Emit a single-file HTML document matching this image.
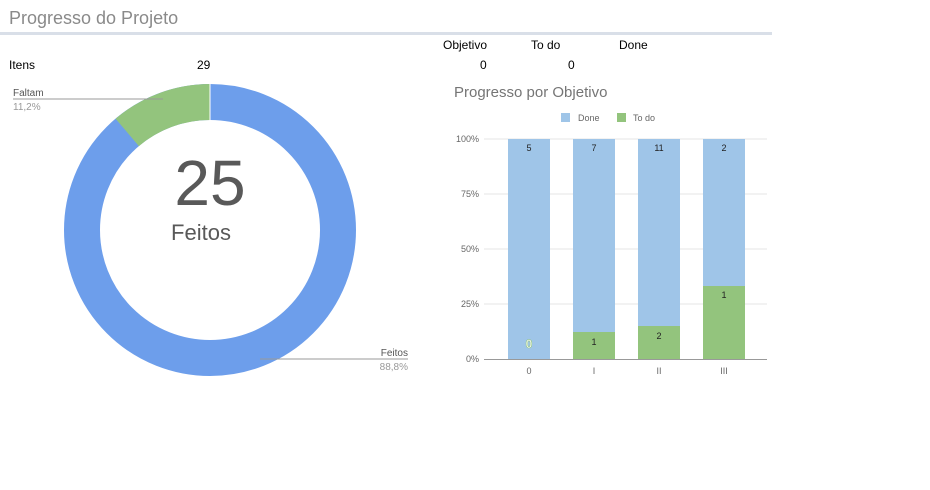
<html><body style="margin:0;background:#fff">
<svg width="930" height="490" xmlns="http://www.w3.org/2000/svg" font-family="Liberation Sans, Arial, sans-serif">
<text x="9" y="24" font-size="18" fill="#8a8a8a">Progresso do Projeto</text>
<rect x="0" y="32" width="772" height="3" fill="#d9dfe8"/>
<text x="9" y="69" font-size="12" fill="#000">Itens</text>
<text x="197" y="69" font-size="12" fill="#000">29</text>
<text x="443" y="49" font-size="12" fill="#000">Objetivo</text>
<text x="531" y="49" font-size="12" fill="#000">To do</text>
<text x="619" y="49" font-size="12" fill="#000">Done</text>
<text x="480" y="69" font-size="12" fill="#000">0</text>
<text x="568" y="69" font-size="12" fill="#000">0</text>
<!-- donut -->
<circle cx="210" cy="230" r="128" fill="none" stroke="#6d9eeb" stroke-width="36"/>
<path d="M210 84 A146 146 0 0 0 115.6 118.7 L138.9 146.1 A110 110 0 0 1 210 120 Z" fill="#93c47d"/>
<line x1="210" y1="84" x2="210" y2="120" stroke="#fff" stroke-width="1"/>
<text x="210" y="205" font-size="64" fill="#595959" text-anchor="middle">25</text>
<text x="201" y="240" font-size="22" fill="#595959" text-anchor="middle">Feitos</text>
<line x1="13" y1="99" x2="163" y2="99" stroke="#999"/>
<text x="13" y="96" font-size="10" fill="#555">Faltam</text>
<text x="13" y="110" font-size="10" fill="#999">11,2%</text>
<line x1="260" y1="359" x2="408" y2="359" stroke="#999"/>
<text x="408" y="356" font-size="10" fill="#555" text-anchor="end">Feitos</text>
<text x="408" y="370" font-size="10" fill="#999" text-anchor="end">88,8%</text>
<!-- bar chart -->
<text x="454" y="97" font-size="15" fill="#757575">Progresso por Objetivo</text>
<rect x="561" y="113" width="9" height="9" fill="#9fc5e8"/>
<text x="578" y="121" font-size="9" fill="#666">Done</text>
<rect x="617" y="113" width="9" height="9" fill="#93c47d"/>
<text x="633" y="121" font-size="9" fill="#666">To do</text>
<g stroke="#e6e6e6"><line x1="484" y1="139" x2="767" y2="139"/><line x1="484" y1="194" x2="767" y2="194"/><line x1="484" y1="249" x2="767" y2="249"/><line x1="484" y1="304" x2="767" y2="304"/></g>
<g font-size="9" fill="#666" text-anchor="end"><text x="479" y="142">100%</text><text x="479" y="197">75%</text><text x="479" y="252">50%</text><text x="479" y="307">25%</text><text x="479" y="362">0%</text></g>
<g fill="#9fc5e8"><rect x="508" y="139" width="42" height="220"/><rect x="573" y="139" width="42" height="220"/><rect x="638" y="139" width="42" height="220"/><rect x="703" y="139" width="42" height="220"/></g>
<g fill="#93c47d"><rect x="573" y="332" width="42" height="27"/><rect x="638" y="326" width="42" height="33"/><rect x="703" y="286" width="42" height="73"/></g>
<line x1="484" y1="359.5" x2="767" y2="359.5" stroke="#999"/>
<g font-size="9" fill="#222" text-anchor="middle"><text x="529" y="151">5</text><text x="594" y="151">7</text><text x="659" y="151">11</text><text x="724" y="151">2</text>
<text x="594" y="345">1</text><text x="659" y="339">2</text><text x="724" y="298">1</text></g>
<text x="529" y="348" font-size="12" font-weight="bold" fill="#fff" stroke="#93c47d" stroke-width="0.6" text-anchor="middle">0</text>
<g font-size="9" fill="#666" text-anchor="middle"><text x="529" y="374">0</text><text x="594" y="374">I</text><text x="659" y="374">II</text><text x="724" y="374">III</text></g>
</svg>
</body></html>
